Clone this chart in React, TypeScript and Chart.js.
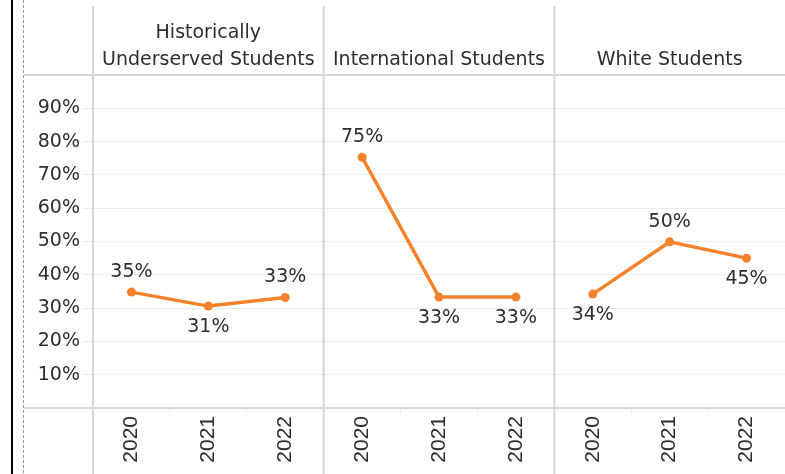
import React, { useEffect, useRef } from 'react';
import { Chart, registerables } from 'chart.js';

Chart.register(...registerables);

// ---- Data ----
const panelTitles: string[][] = [
  ['Historically', 'Underserved Students'],
  ['International Students'],
  ['White Students'],
];
const years = ['2020', '2021', '2022'];
const underservedRates = [0.348, 0.306, 0.332];
const internationalRates = [0.753, 0.333, 0.333];
const whiteRates = [0.342, 0.499, 0.45];

const ORANGE = '#f5822a';
const TEXT = '#2e2e2e';
const FONT = '"DejaVu Sans", sans-serif';
const YEAR_FONT = '"Liberation Sans", Arial, sans-serif';

const pct = (v: number) => Math.round(v * 100) + '%';

const framePlugin = {
  id: 'frame',
  beforeDraw(chart: any) {
    const { ctx, width, height } = chart;
    ctx.save();
    ctx.fillStyle = '#ffffff';
    ctx.fillRect(0, 0, width, height);
    ctx.restore();
  },
  beforeDatasetsDraw(chart: any) {
    const { ctx, width, height, chartArea: ca, scales } = chart;
    const x = scales.x;
    const y = scales.y;
    ctx.save();
    // outer black border line
    ctx.fillStyle = '#000000';
    ctx.fillRect(11, 0, 2, height);
    // dashed line
    ctx.strokeStyle = '#9a9a9a';
    ctx.lineWidth = 1;
    ctx.setLineDash([3, 2]);
    ctx.beginPath();
    ctx.moveTo(23.5, 0);
    ctx.lineTo(23.5, height);
    ctx.stroke();
    ctx.setLineDash([]);
    // header line and axis line
    ctx.strokeStyle = '#d6d6d6';
    ctx.lineWidth = 2;
    [y.getPixelForValue(1), y.getPixelForValue(0)].forEach((py: number) => {
      ctx.beginPath();
      ctx.moveTo(24, py);
      ctx.lineTo(width, py);
      ctx.stroke();
    });
    // panel separators
    const n = years.length;
    for (let p = 0; p < panelTitles.length; p++) {
      const px = p === 0 ? ca.left : (x.getPixelForTick(p * n - 1) + x.getPixelForTick(p * n)) / 2;
      ctx.beginPath();
      ctx.moveTo(px, 6);
      ctx.lineTo(px, height);
      ctx.stroke();
    }
    ctx.restore();
  },
  afterDatasetsDraw(chart: any) {
    const { ctx, chartArea: ca, scales } = chart;
    const x = scales.x;
    const n = years.length;
    ctx.save();
    // headers
    ctx.fillStyle = TEXT;
    ctx.font = `19px ${FONT}`;
    ctx.textAlign = 'center';
    ctx.textBaseline = 'alphabetic';
    panelTitles.forEach((lines, p) => {
      const left = p === 0 ? ca.left : (x.getPixelForTick(p * n - 1) + x.getPixelForTick(p * n)) / 2;
      const right = p === panelTitles.length - 1 ? ca.right : (x.getPixelForTick(p * n + n - 1) + x.getPixelForTick(p * n + n)) / 2;
      const cx = (left + right) / 2;
      const baseY = 65;
      lines.forEach((line, i) => {
        ctx.fillText(line, cx, baseY - (lines.length - 1 - i) * 27);
      });
    });
    // data labels
    ctx.font = `19px ${FONT}`;
    ctx.textBaseline = 'middle';
    chart.data.datasets.forEach((ds: any, di: number) => {
      const meta = chart.getDatasetMeta(di);
      ds.data.forEach((v: number | null, i: number) => {
        if (v == null) return;
        const el = meta.data[i];
        const prev = ds.data[i - 1];
        const next = ds.data[i + 1];
        const neighbours = [prev, next].filter((u: any) => u != null) as number[];
        const above = neighbours.every((u) => v > u);
        ctx.fillText(pct(v), el.x, above ? el.y - 20 : el.y + 21);
      });
    });
    ctx.restore();
  },
};

export default function App() {
  const canvasRef = useRef<HTMLCanvasElement>(null);

  useEffect(() => {
    const canvas = canvasRef.current;
    if (!canvas) return;
    const series = [underservedRates, internationalRates, whiteRates];
    const labels = panelTitles.flatMap(() => years);
    const datasets = series.map((vals, p) => ({
      data: labels.map((_, i) => (Math.floor(i / years.length) === p ? vals[i % years.length] : null)),
      borderColor: ORANGE,
      backgroundColor: ORANGE,
      borderWidth: 3.5,
      pointRadius: 4.5,
      pointHoverRadius: 4.5,
      pointBorderWidth: 0,
      tension: 0,
      spanGaps: false,
    }));

    const chart = new Chart(canvas, {
      type: 'line',
      data: { labels, datasets },
      plugins: [framePlugin],
      options: {
        animation: false,
        responsive: false,
        devicePixelRatio: 1,
        layout: { autoPadding: false, padding: { top: 75, right: 0, left: 0, bottom: 0 } },
        plugins: { legend: { display: false }, tooltip: { enabled: false } },
        scales: {
          x: {
            type: 'category',
            offset: true,
            afterFit: (s: any) => {
              s.height = 66;
              s.paddingLeft = 0;
              s.paddingRight = 0;
            },
            border: { display: false },
            grid: {
              offset: true,
              drawOnChartArea: false,
              drawTicks: true,
              tickLength: 5,
              color: '#ececec',
            },
            ticks: {
              autoSkip: false,
              minRotation: 90,
              maxRotation: 90,
              padding: 3,
              color: TEXT,
              font: { family: YEAR_FONT, size: 21 },
            },
          },
          y: {
            min: 0,
            max: 1,
            afterFit: (s: any) => {
              s.width = 93;
            },
            border: { display: false },
            grid: {
              color: (c: any) =>
                c.tick && c.tick.value > 0.001 && c.tick.value < 0.999 ? '#ebebeb' : 'rgba(0,0,0,0)',
              lineWidth: 1,
              drawTicks: true,
              tickLength: 10,
            },
            ticks: {
              stepSize: 0.1,
              padding: 3,
              color: TEXT,
              font: { family: FONT, size: 19 },
              callback: (v: any) => (v > 0.001 && v < 0.999 ? pct(Number(v)) : ''),
            },
          },
        },
      },
    });
    return () => chart.destroy();
  }, []);

  return (
    <div style={{ position: 'absolute', left: 0, top: 0, width: 785, height: 474, background: '#fff' }}>
      <canvas ref={canvasRef} width={785} height={474} style={{ display: 'block' }} />
    </div>
  );
}
